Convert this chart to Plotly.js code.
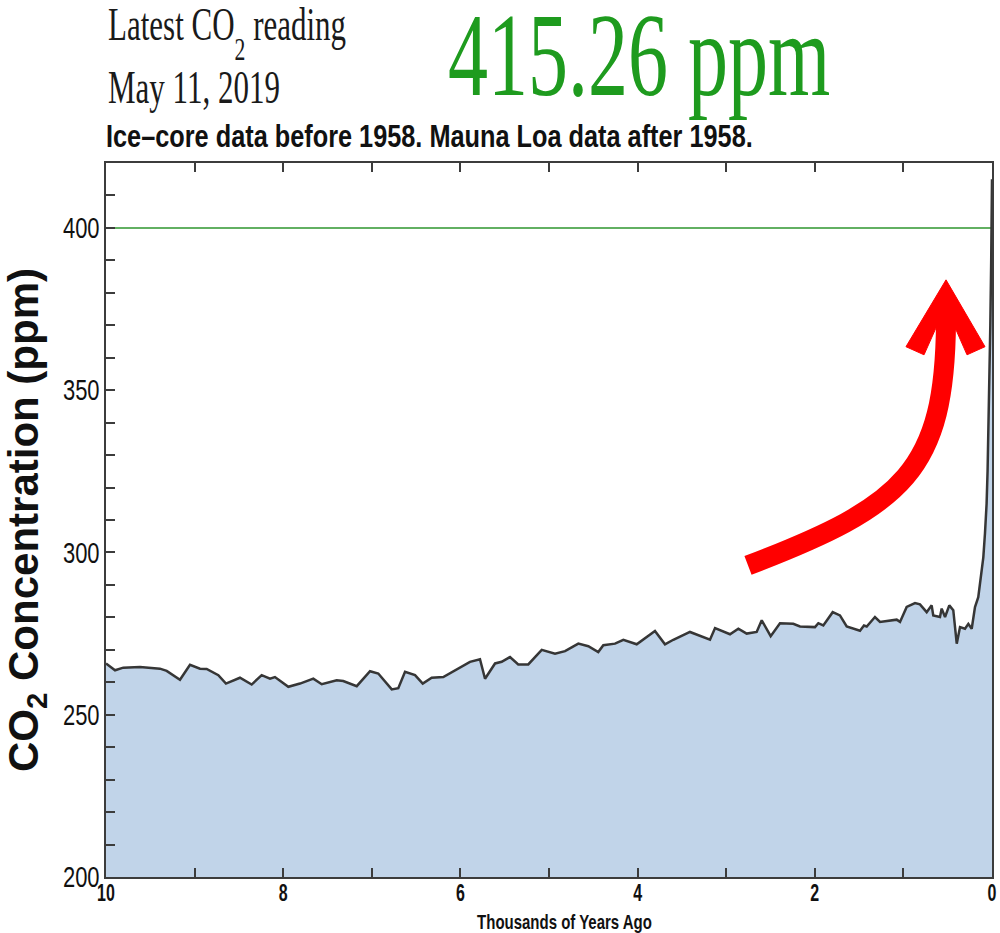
<!DOCTYPE html>
<html><head><meta charset="utf-8">
<script src="https://cdn.plot.ly/plotly-3.0.1.min.js"></script>
<style>body{margin:0;background:#fff}</style>
</head><body>
<div id="chart" style="width:1000px;height:933px"></div>
<script>
// Thousands of years ago (x) and CO2 concentration in ppm (y)
const kyrAgo = [10.0, 9.898, 9.805, 9.616, 9.391, 9.315, 9.165, 9.052, 8.939, 8.864, 8.732, 8.646, 8.488, 8.356, 8.243, 8.149, 8.093, 7.942, 7.810, 7.660, 7.565, 7.396, 7.322, 7.170, 7.020, 6.927, 6.775, 6.701, 6.625, 6.512, 6.425, 6.324, 6.193, 6.005, 5.892, 5.779, 5.722, 5.609, 5.534, 5.440, 5.347, 5.234, 5.082, 4.932, 4.819, 4.669, 4.556, 4.444, 4.387, 4.255, 4.161, 4.010, 3.804, 3.691, 3.597, 3.409, 3.183, 3.126, 2.957, 2.863, 2.769, 2.656, 2.599, 2.498, 2.393, 2.243, 2.167, 1.998, 1.960, 1.904, 1.798, 1.716, 1.640, 1.490, 1.445, 1.414, 1.321, 1.264, 1.151, 1.076, 1.038, 0.963, 0.869, 0.813, 0.737, 0.681, 0.663, 0.587, 0.568, 0.530, 0.482, 0.437, 0.398, 0.361, 0.305, 0.267, 0.229, 0.192, 0.155, 0.135, 0.116, 0.098, 0.079, 0.061, 0.050, 0.039, 0.029, 0.019, 0.009, 0.0];
const co2ppm = [265.8, 263.7, 264.5, 264.7, 264.2, 263.5, 260.8, 265.4, 264.2, 264.1, 262.2, 259.6, 261.4, 259.3, 262.2, 261.1, 261.6, 258.6, 259.6, 261.1, 259.4, 260.6, 260.4, 258.8, 263.4, 262.7, 257.8, 258.2, 263.2, 262.2, 259.6, 261.4, 261.6, 264.5, 266.3, 267.1, 261.1, 265.8, 266.3, 267.8, 265.5, 265.5, 270.0, 268.8, 269.6, 271.9, 271.1, 269.3, 271.4, 271.9, 273.1, 271.7, 275.8, 271.7, 273.1, 275.5, 273.1, 276.7, 274.8, 276.5, 275.0, 275.5, 279.1, 274.2, 278.2, 278.0, 277.2, 277.0, 278.2, 277.5, 281.6, 280.6, 277.2, 275.9, 277.5, 277.2, 280.1, 278.6, 279.1, 279.3, 278.6, 283.2, 284.4, 284.0, 281.6, 283.7, 280.6, 280.1, 282.7, 280.1, 283.7, 282.2, 271.9, 277.0, 276.5, 278.0, 276.5, 283.2, 286.2, 290.4, 295.5, 298.5, 306, 315, 325, 339, 354, 370, 390, 415];
const referenceLevel = 400;
const xRange = [10, 0];
const yRange = [200, 420];
const headerLine1 = 'Latest CO<sub>2</sub> reading';
const headerLine2 = 'May 11, 2019';
const latestReading = '415.26 ppm';
const subtitle = 'Ice\u2013core data before 1958. Mauna Loa data after 1958.';
const xTitle = 'Thousands of Years Ago';
const yTitle = 'CO<sub>2</sub> Concentration (ppm)';

// decorative red arrow (data coordinates)
const arrowShaft = 'M 2.754,296.0 C 0.982,314.5 0.530,325.2 0.519,371.4';
const arrowHead = 'M 0.519,384.0 L 0.079,363.4 L 0.282,360.9 L 0.406,368.6 L 0.632,369.2 L 0.767,360.9 L 0.971,363.4 Z';

const axisColor = '#3c3c3c';
const trace = {
  x: kyrAgo, y: co2ppm, type: 'scatter', mode: 'lines',
  fill: 'tozeroy', fillcolor: '#c1d4e9',
  line: {color: '#363636', width: 2.5},
  hoverinfo: 'skip', showlegend: false
};

const layout = {
  width: 1000, height: 933,
  margin: {l: 106, r: 8, t: 163, b: 56},
  paper_bgcolor: '#ffffff', plot_bgcolor: '#ffffff',
  showlegend: false,
  xaxis: {
    range: xRange, autorange: false, tickmode: 'linear', tick0: 0, dtick: 2,
    ticks: 'inside', ticklen: 9, tickwidth: 2, tickcolor: axisColor,
    showline: true, linecolor: axisColor, linewidth: 2, mirror: 'ticks',
    showgrid: false, zeroline: false,
    tickfont: {family: 'Liberation Sans, Arial, sans-serif', size: 16, weight: 'bold', color: '#111'},
    minor: {tick0: 0, dtick: 1, ticks: 'inside', ticklen: 9, tickwidth: 2, tickcolor: axisColor, showgrid: false}
  },
  yaxis: {
    range: yRange, autorange: false, tickmode: 'linear', tick0: 200, dtick: 50,
    ticks: 'inside', ticklen: 9, tickwidth: 2, tickcolor: axisColor,
    showline: true, linecolor: axisColor, linewidth: 2, mirror: true,
    showgrid: false, zeroline: false,
    tickfont: {family: 'Liberation Sans, Arial, sans-serif', size: 22, color: '#111'},
    minor: {tick0: 200, dtick: 10, ticks: 'inside', ticklen: 9, tickwidth: 2, tickcolor: axisColor, showgrid: false},
    title: {text: yTitle, standoff: 12, font: {family: 'Liberation Sans, Arial, sans-serif', size: 42, weight: 'bold', color: '#111'}}
  },
  shapes: [
    {type: 'line', xref: 'paper', x0: 0, x1: 1, yref: 'y', y0: referenceLevel, y1: referenceLevel,
     line: {color: '#62b062', width: 2}, layer: 'below'},
    {type: 'path', xref: 'x', yref: 'y', path: arrowShaft, line: {color: '#ff0000', width: 20}, layer: 'above'},
    {type: 'path', xref: 'x', yref: 'y', path: arrowHead, fillcolor: '#ff0000', line: {color: '#ff0000', width: 1}, layer: 'above'}
  ],
  annotations: [
    {text: headerLine1, xref: 'paper', yref: 'paper', x: 0.0, y: 1.1856, xanchor: 'left', yanchor: 'middle', showarrow: false,
     font: {family: 'Liberation Serif, Times New Roman, serif', size: 31, color: '#1a1a1a'}},
    {text: headerLine2, xref: 'paper', yref: 'paper', x: 0.0, y: 1.1064, xanchor: 'left', yanchor: 'middle', showarrow: false,
     font: {family: 'Liberation Serif, Times New Roman, serif', size: 31, color: '#1a1a1a'}},
    {text: latestReading, xref: 'paper', yref: 'paper', x: 0.384, y: 1.1513, xanchor: 'left', yanchor: 'middle', showarrow: false,
     font: {family: 'Liberation Serif, Times New Roman, serif', size: 80, color: '#1e9b1e'}},
    {text: subtitle, xref: 'paper', yref: 'paper', x: -0.002, y: 1.0378, xanchor: 'left', yanchor: 'middle', showarrow: false,
     font: {family: 'Liberation Sans, Arial, sans-serif', size: 25.3, weight: 'bold', color: '#111'}},
    {text: xTitle, xref: 'paper', yref: 'paper', x: 0.5175, y: -0.0623, xanchor: 'center', yanchor: 'middle', showarrow: false,
     font: {family: 'Liberation Sans, Arial, sans-serif', size: 15, weight: 'bold', color: '#111'}}
  ]
};

function stretch(nodes, sx, sy, ax) {
  nodes.forEach(function (t) {
    const b = t.getBBox();
    const cx = ax === 'left' ? b.x : (ax === 'right' ? b.x + b.width : b.x + b.width / 2);
    const cy = b.y + b.height / 2;
    const prev = t.getAttribute('transform') || '';
    t.setAttribute('transform', prev + ' translate(' + cx + ',' + cy + ') scale(' + sx + ',' + sy + ') translate(' + (-cx) + ',' + (-cy) + ')');
  });
}

function lowerSubscript(nodes, px) {
  nodes.forEach(function (t) {
    Array.from(t.querySelectorAll('tspan')).forEach(function (s) {
      const st = s.getAttribute('style') || '';
      if (st.indexOf('70%') >= 0 && s.textContent === '2') {
        s.setAttribute('dy', px);
        const nxt = s.nextElementSibling;
        if (nxt && nxt.tagName.toLowerCase() === 'tspan') nxt.setAttribute('dy', -px);
      }
    });
  });
}

Plotly.newPlot('chart', [trace], layout, {staticPlot: true, displayModeBar: false}).then(function (gd) {
  const ann = function (i) { return Array.from(gd.querySelectorAll('.annotation[data-index="' + i + '"] text')); };
  lowerSubscript(ann(0), 13);
  stretch(ann(0), 1, 1.5, 'left');
  stretch(ann(1), 1, 1.5, 'left');
  stretch(ann(2), 1, 1.48, 'left');
  stretch(ann(3), 1, 1.22, 'left');
  stretch(ann(4), 1, 1.3, 'center');
  stretch(Array.from(gd.querySelectorAll('.xtick text')), 1, 1.45, 'center');
  stretch(Array.from(gd.querySelectorAll('.ytick text')), 1, 1.33, 'right');
});
</script>
</body></html>
